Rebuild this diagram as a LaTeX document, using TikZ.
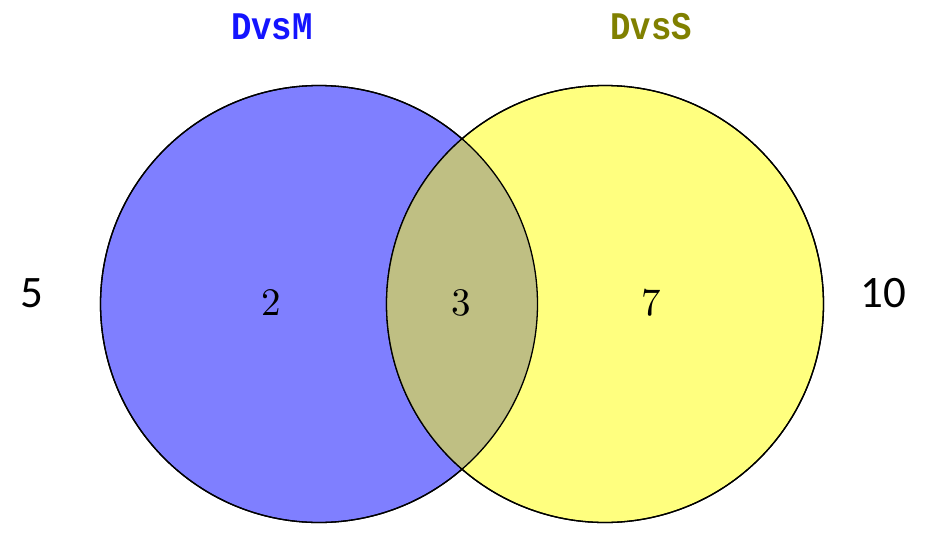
\documentclass[tikz,border=0pt]{standalone}
\usepackage{fontspec}
\newfontfamily\setlabelfont{Liberation Mono}
\newfontfamily\countfont{Carlito}
\definecolor{setM}{RGB}{127,127,255}
\definecolor{setS}{RGB}{255,255,127}
\definecolor{setMS}{RGB}{191,191,131}
\definecolor{labelM}{RGB}{20,20,255}
\definecolor{labelS}{RGB}{128,128,0}
\tikzset{
  setcircle/.style={circle, minimum size=437pt, inner sep=0pt, draw=black, line width=1.3pt},
  setname/.style={font=\setlabelfont\bfseries\fontsize{34}{36}\selectfont, yscale=1.15},
  regioncount/.style={font=\rmfamily\fontsize{10}{12}\selectfont, scale=3.9},
  totalcount/.style={font=\countfont\fontsize{45}{48}\selectfont}
}
\begin{document}
\begin{tikzpicture}[x=1pt, y=-1pt]
  \useasboundingbox (0,0) rectangle (936,533);
  % the two sets
  \node[setcircle, fill=setM] (dvsm) at (319,304) {};
  \node[setcircle, fill=setS] (dvss) at (605,304) {};
  % shared region
  \begin{scope}
    \clip (319,304) circle (218.5pt);
    \fill[setMS] (605,304) circle (218.5pt);
  \end{scope}
  \draw[line width=1.3pt] (319,304) circle (218.5pt);
  \draw[line width=1.3pt] (605,304) circle (218.5pt);
  % set names
  \node[setname, text=labelM] (nameM) at (272,27) {DvsM};
  \node[setname, text=labelS] (nameS) at (651,27) {DvsS};
  % region counts
  \node[regioncount] (onlyM) at (271,303) {2};
  \node[regioncount] (both) at (461,303) {3};
  \node[regioncount] (onlyS) at (651,303) {7};
  % set totals
  \node[totalcount] (totalM) at (32,293) {5};
  \node[totalcount] (totalS) at (883,293) {10};
\end{tikzpicture}
\end{document}
